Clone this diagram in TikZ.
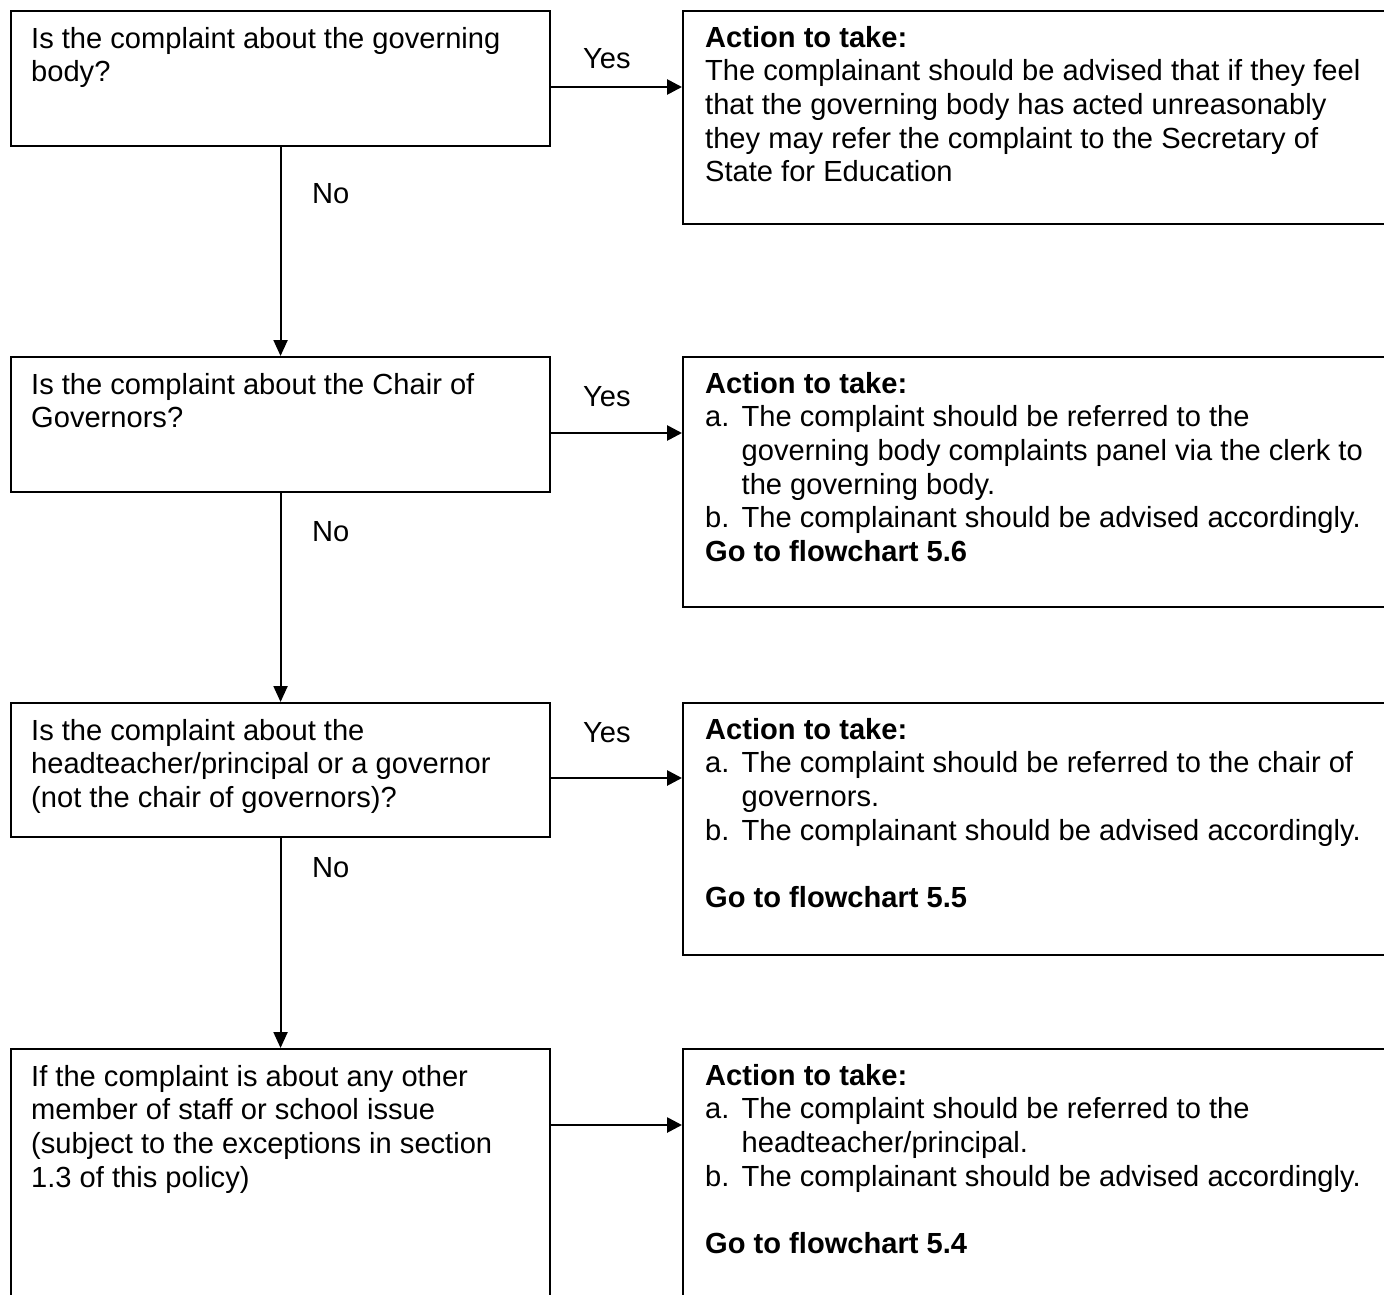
\documentclass[tikz,border=0pt]{standalone}
\usepackage{fontspec}
\setmainfont{Liberation Sans}
\usetikzlibrary{arrows.meta}
\begin{document}
\begin{tikzpicture}[x=1pt,y=-1pt,
  box/.style={draw=black, line width=2.1pt, rectangle, inner sep=0pt, anchor=north west},
  txt/.style={anchor=north west, inner sep=0pt, align=left, font=\fontsize{29.1pt}{33.7pt}\selectfont},
  lab/.style={anchor=base west, inner sep=0pt, font=\fontsize{29.1pt}{33.7pt}\selectfont},
  harr/.style={line width=2.7pt, -{Triangle[length=15pt,width=15pt]}},
  varr/.style={line width=2.1pt, -{Triangle[length=16pt,width=14pt]}}
]
\useasboundingbox (0,0) rectangle (1384,1295);
\clip (0,0) rectangle (1384,1295);
\fill[white] (0,0) rectangle (1384,1295);

% question boxes
\node[box, minimum width=539pt, minimum height=135pt] (q1) at (10,10) {};
\node[box, minimum width=539pt, minimum height=135pt] (q2) at (10,356) {};
\node[box, minimum width=539pt, minimum height=134pt] (q3) at (10,702) {};
\node[box, minimum width=539pt, minimum height=280pt] (q4) at (10,1048) {};

% action boxes
\node[box, minimum width=730pt, minimum height=213pt] (a1) at (682,10) {};
\node[box, minimum width=730pt, minimum height=250pt] (a2) at (682,356) {};
\node[box, minimum width=730pt, minimum height=252pt] (a3) at (682,702) {};
\node[box, minimum width=730pt, minimum height=280pt] (a4) at (682,1048) {};

% question texts (first baseline 38px below box top; strut height 23.59)
\node[txt] (tq1) at ([shift={(21pt,-14.4pt)}]q1.north west) {\strut Is the complaint about the governing\\body?};
\node[txt] (tq2) at ([shift={(21pt,-14.4pt)}]q2.north west) {\strut Is the complaint about the Chair of\\Governors?};
\node[txt] (tq3) at ([shift={(21pt,-14.4pt)}]q3.north west) {\strut Is the complaint about the\\headteacher/principal or a governor\\(not the chair of governors)?};
\node[txt] (tq4) at ([shift={(21pt,-14.4pt)}]q4.north west) {\strut If the complaint is about any other\\member of staff or school issue\\(subject to the exceptions in section\\1.3 of this policy)};

% action texts
\node[txt] (ta1) at ([shift={(23pt,-13.4pt)}]a1.north west) {\strut\textbf{Action to take:}\\The complainant should be advised that if they feel\\that the governing body has acted unreasonably\\they may refer the complaint to the Secretary of\\State for Education};
\node[txt] (ta2) at ([shift={(23pt,-13.4pt)}]a2.north west) {\strut\textbf{Action to take:}\\
\makebox[36.5pt][l]{a.}The complaint should be referred to the\\
\hspace*{36.5pt}governing body complaints panel via the clerk to\\
\hspace*{36.5pt}the governing body.\\
\makebox[36.5pt][l]{b.}The complainant should be advised accordingly.\\
\textbf{Go to flowchart 5.6}};
\node[txt] (ta3) at ([shift={(23pt,-13.4pt)}]a3.north west) {\strut\textbf{Action to take:}\\
\makebox[36.5pt][l]{a.}The complaint should be referred to the chair of\\
\hspace*{36.5pt}governors.\\
\makebox[36.5pt][l]{b.}The complainant should be advised accordingly.\\[33.7pt]
\textbf{Go to flowchart 5.5}};
\node[txt] (ta4) at ([shift={(23pt,-13.4pt)}]a4.north west) {\strut\textbf{Action to take:}\\
\makebox[36.5pt][l]{a.}The complaint should be referred to the\\
\hspace*{36.5pt}headteacher/principal.\\
\makebox[36.5pt][l]{b.}The complainant should be advised accordingly.\\[33.7pt]
\textbf{Go to flowchart 5.4}};

% connectors
\draw[harr] ([yshift=-77pt]q1.north east) -- ([yshift=-77pt]a1.north west);
\draw[harr] ([yshift=-77pt]q2.north east) -- ([yshift=-77pt]a2.north west);
\draw[harr] ([yshift=-76pt]q3.north east) -- ([yshift=-76pt]a3.north west);
\draw[harr] ([yshift=-77pt]q4.north east) -- ([yshift=-77pt]a4.north west);
\draw[varr] (q1.south) -- (q2.north);
\draw[varr] (q2.south) -- (q3.north);
\draw[varr] (q3.south) -- (q4.north);

% labels
\node[lab] (y1) at (583,69) {Yes};
\node[lab] (y2) at (583,406) {Yes};
\node[lab] (y3) at (583,742) {Yes};
\node[lab] (n1) at (312,203) {No};
\node[lab] (n2) at (312,541) {No};
\node[lab] (n3) at (312,877) {No};
\end{tikzpicture}
\end{document}
